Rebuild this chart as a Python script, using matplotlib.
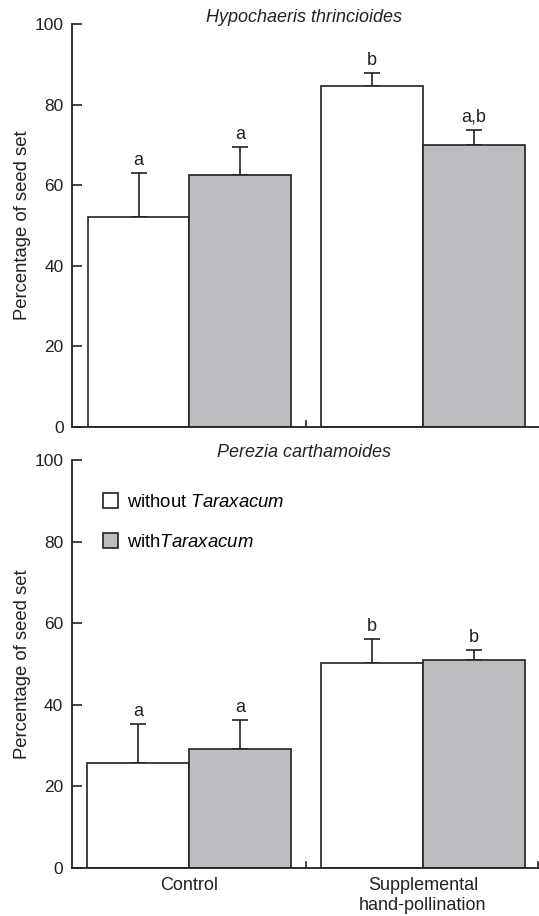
import matplotlib
matplotlib.use("Agg")
import numpy as np
import matplotlib.pyplot as plt
from matplotlib.patches import Patch

plt.rcParams["font.family"] = ["Liberation Sans", "DejaVu Sans"]
plt.rcParams["mathtext.fontset"] = "custom"
plt.rcParams["mathtext.rm"] = "Liberation Sans"
plt.rcParams["mathtext.it"] = "Liberation Sans:italic"

# data
groups = ["Control", "Supplemental\nhand-pollination"]
series = ["without $\\mathit{Taraxacum}$", "with$\\mathit{Taraxacum}$"]

hypo_without = [52.2, 84.5]
hypo_without_err = [10.8, 3.3]
hypo_with = [62.5, 69.9]
hypo_with_err = [7.0, 3.8]
hypo_letters_without = ["a", "b"]
hypo_letters_with = ["a", "a,b"]

pere_without = [25.8, 50.3]
pere_without_err = [9.4, 5.8]
pere_with = [29.0, 50.9]
pere_with_err = [7.3, 2.5]
pere_letters_without = ["a", "b"]
pere_letters_with = ["a", "b"]

titles = ["Hypochaeris thrincioides", "Perezia carthamoides"]
yticks = [0, 20, 40, 60, 80, 100]

GRAY = "#bcbdc0"
INK = "#222222"
centers = np.array([0.0, 2.294])
width = 1.0

fig = plt.figure(figsize=(5.39, 9.16), dpi=100)
ax_top = fig.add_axes([0.1336, 0.5338, 0.8664, 0.4400])
ax_bot = fig.add_axes([0.1330, 0.0527, 0.8670, 0.4451])


def draw_panel(ax, vals_wo, err_wo, vals_w, err_w, let_wo, let_w, title, show_x, title_off):
    x_wo = centers - width / 2
    x_w = centers + width / 2
    ax.bar(x_wo, vals_wo, width, color="white", edgecolor=INK, linewidth=1.2, zorder=2)
    ax.bar(x_w, vals_w, width, color=GRAY, edgecolor=INK, linewidth=1.2, zorder=2)
    ax.errorbar(x_wo, vals_wo, yerr=[np.zeros(len(err_wo)), err_wo], fmt="none",
                ecolor=INK, elinewidth=1.2, capsize=5.5, capthick=1.2, zorder=1)
    ax.errorbar(x_w, vals_w, yerr=[np.zeros(len(err_w)), err_w], fmt="none",
                ecolor=INK, elinewidth=1.2, capsize=5.5, capthick=1.2, zorder=1)
    for xs, vs, es, ls in [(x_wo, vals_wo, err_wo, let_wo), (x_w, vals_w, err_w, let_w)]:
        for x, v, e, l in zip(xs, vs, es, ls):
            ax.annotate(l, (x, v + e), xytext=(0, 3), textcoords="offset points",
                        ha="center", va="bottom", fontsize=13, color=INK)

    ax.set_xlim(-1.154, 3.433)
    ax.set_ylim(0, 100)
    ax.set_yticks(yticks)
    ax.spines["top"].set_visible(False)
    ax.spines["right"].set_visible(False)
    for side in ["left", "bottom"]:
        ax.spines[side].set_linewidth(1.3)
        ax.spines[side].set_color(INK)
    ax.tick_params(axis="y", direction="in", length=7, width=1.2, pad=6,
                   labelsize=12.5, colors=INK)
    ax.set_ylabel("Percentage of seed set", fontsize=13.3, color=INK)
    ax.yaxis.set_label_coords(-0.088, 0.5)

    if show_x:
        ax.set_xticks(centers)
        ax.set_xticklabels(groups, fontsize=13, color=INK, linespacing=1.2)
        ax.tick_params(axis="x", length=0, pad=7)
        # small tick at the right end of the axis
        ax.plot([ax.get_xlim()[1] - 0.01] * 2, [0, 1.3], color=INK, lw=1.2, clip_on=False)
    else:
        ax.set_xticks([])

    # axis break between the two groups
    mid = (centers[0] + centers[1]) / 2
    ax.plot([mid, mid], [0, 1.4], color=INK, lw=1.2, clip_on=False)

    ax.annotate(title, (mid - 0.02, 1.0), xycoords=("data", "axes fraction"),
                xytext=(0, title_off), textcoords="offset pixels",
                ha="center", va="center", fontsize=13, style="italic", color=INK)


draw_panel(ax_top, hypo_without, hypo_without_err, hypo_with, hypo_with_err,
           hypo_letters_without, hypo_letters_with, titles[0], False, 6)
draw_panel(ax_bot, pere_without, pere_without_err, pere_with, pere_with_err,
           pere_letters_without, pere_letters_with, titles[1], True, 8)

handles = [Patch(facecolor="white", edgecolor=INK, linewidth=1.2),
           Patch(facecolor=GRAY, edgecolor=INK, linewidth=1.2)]
ax_bot.legend(handles, series, loc="upper left", bbox_to_anchor=(0.066, 0.918),
              frameon=False, fontsize=13.3, handlelength=0.85, handleheight=0.85,
              handletextpad=0.5, labelspacing=1.2, borderpad=0, borderaxespad=0)

fig.savefig("out.png", dpi=100)
